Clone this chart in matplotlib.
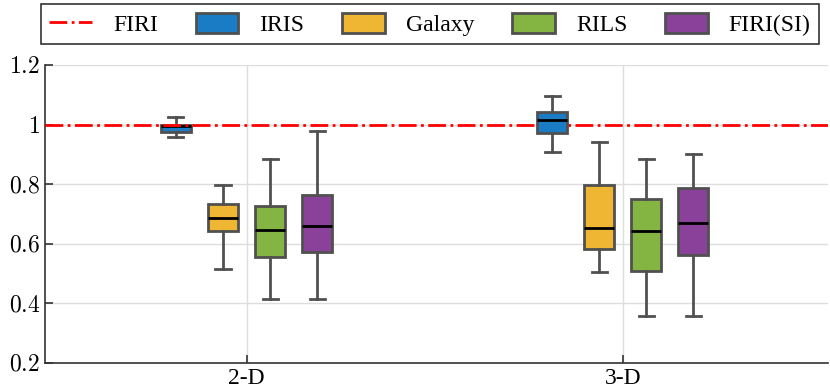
import matplotlib.pyplot as plt
from matplotlib.patches import Patch
from matplotlib.lines import Line2D

plt.rcParams["font.family"] = ["Liberation Serif", "DejaVu Serif"]
plt.rcParams["mathtext.fontset"] = "cm"

groups = ["2-D", "3-D"]
methods = ["IRIS", "Galaxy", "RILS", "FIRI(SI)"]
colors = ["#1a7cc4", "#efb634", "#84b441", "#89419a"]

# per group, per method: lower whisker, q1, median, q3, upper whisker
whislo = [[0.960, 0.515, 0.415, 0.415], [0.908, 0.504, 0.359, 0.359]]
q1 = [[0.974, 0.643, 0.557, 0.573], [0.971, 0.583, 0.510, 0.562]]
med = [[0.995, 0.688, 0.646, 0.660], [1.016, 0.654, 0.644, 0.669]]
q3 = [[0.998, 0.735, 0.727, 0.765], [1.041, 0.797, 0.749, 0.788]]
whishi = [[1.025, 0.797, 0.885, 0.980], [1.095, 0.942, 0.885, 0.901]]

firi_ref = 1.0
yticks = [0.2, 0.4, 0.6, 0.8, 1.0, 1.2]
ytick_labels = ["0.2", "0.4", "0.6", "0.8", "1", "1.2"]

fig = plt.figure(figsize=(8.3, 3.92), dpi=100)
ax = fig.add_axes([0.054, 0.074, 0.944, 0.76])

offsets = [-0.1875, -0.0625, 0.0625, 0.1875]
width = 0.08
edge = "#505050"
# 2-D boxes sit under the reference line, 3-D boxes above it
group_z = [3, 5]

for g in range(len(groups)):
    for m in range(len(methods)):
        st = [{"whislo": whislo[g][m], "q1": q1[g][m], "med": med[g][m],
               "q3": q3[g][m], "whishi": whishi[g][m], "fliers": []}]
        ax.bxp(st, positions=[g + 1 + offsets[m]], widths=width, patch_artist=True,
               showfliers=False, capwidths=width * 0.5,
               boxprops=dict(facecolor=colors[m], edgecolor=edge, linewidth=2.0),
               whiskerprops=dict(color=edge, linewidth=2.0),
               capprops=dict(color=edge, linewidth=2.0),
               medianprops=dict(color="black", linewidth=2.0),
               manage_ticks=False, zorder=group_z[g])

ax.axhline(firi_ref, color="red", linestyle="-.", linewidth=2.0, zorder=4)

ax.set_xlim(0.464, 2.546)
ax.set_ylim(0.2, 1.2)
ax.set_xticks([1, 2])
ax.set_xticklabels(groups, fontsize=17)
ax.set_yticks(yticks)
ax.set_yticklabels(["$" + t + "$" for t in ytick_labels], fontsize=17)
ax.tick_params(direction="in", length=6, width=1.2, colors="#333333", labelcolor="black")
ax.grid(True, color="#dddddd", linewidth=1.0, zorder=0)
ax.set_axisbelow(True)
for s in ["top", "right"]:
    ax.spines[s].set_visible(False)
for s in ["left", "bottom"]:
    ax.spines[s].set_color("#333333")
    ax.spines[s].set_linewidth(1.2)

handles = [Line2D([0], [0], color="red", linestyle="-.", linewidth=2.0)]
handles += [Patch(facecolor=c, edgecolor=edge, linewidth=2.0) for c in colors]
leg = fig.legend(handles, ["FIRI"] + methods, loc="upper center", bbox_to_anchor=(0.518, 0.995),
                 ncol=5, fontsize=17, frameon=True, fancybox=False, edgecolor="black",
                 handlelength=1.8, handleheight=0.95, columnspacing=1.6, handletextpad=0.9,
                 borderpad=0.35, borderaxespad=0.1)
leg.get_frame().set_linewidth(1.2)

fig.savefig("out.png", dpi=100)
